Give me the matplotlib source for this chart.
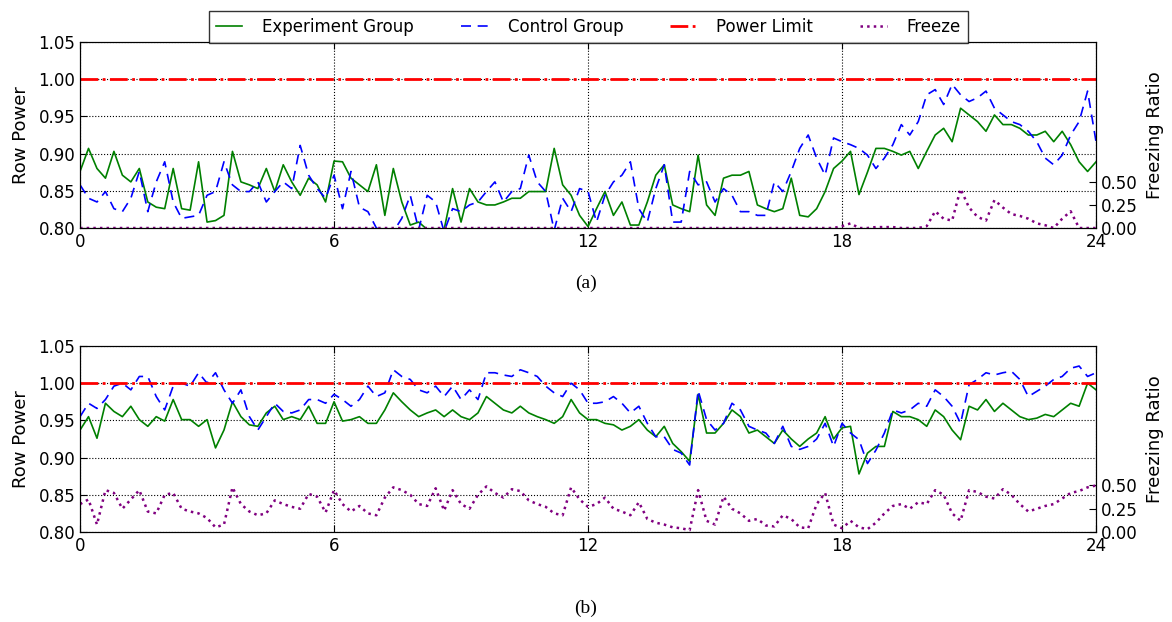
import numpy as np
import matplotlib
matplotlib.use("Agg")
import matplotlib.pyplot as plt

# sample times (hours), one reading every 12 minutes
hours = np.linspace(0, 24, 121)

# (a) row power and freezing ratio
green_a = [0.876, 0.907, 0.880, 0.867, 0.903, 0.871, 0.862, 0.880, 0.835, 0.828, 0.826, 0.880, 0.826, 0.824, 0.889, 0.808,
           0.810, 0.817, 0.903, 0.862, 0.858, 0.853, 0.880, 0.849, 0.885, 0.862, 0.844, 0.867, 0.858, 0.835, 0.890,
           0.889, 0.867, 0.858, 0.849, 0.885, 0.817, 0.880, 0.835, 0.804, 0.808, 0.798, 0.795, 0.798, 0.853, 0.808,
           0.853, 0.835, 0.831, 0.831, 0.835, 0.840, 0.840, 0.849, 0.849, 0.849, 0.907, 0.858, 0.844, 0.817, 0.802,
           0.826, 0.849, 0.817, 0.835, 0.804, 0.804, 0.835, 0.871, 0.885, 0.831, 0.826, 0.822, 0.898, 0.831, 0.817,
           0.867, 0.871, 0.871, 0.876, 0.831, 0.826, 0.822, 0.826, 0.867, 0.817, 0.815, 0.826, 0.849, 0.880, 0.890,
           0.903, 0.845, 0.875, 0.907, 0.907, 0.903, 0.898, 0.903, 0.880, 0.903, 0.925, 0.934, 0.916, 0.961, 0.952,
           0.943, 0.930, 0.952, 0.939, 0.939, 0.934, 0.925, 0.925, 0.930, 0.916, 0.930, 0.912, 0.889, 0.876, 0.889]
blue_a = [0.858, 0.840, 0.835, 0.849, 0.826, 0.822, 0.840, 0.876, 0.822, 0.862, 0.889, 0.835, 0.813, 0.815, 0.817, 0.844,
          0.849, 0.889, 0.858, 0.849, 0.849, 0.862, 0.835, 0.849, 0.862, 0.853, 0.911, 0.871, 0.853, 0.840, 0.871,
          0.826, 0.876, 0.828, 0.822, 0.800, 0.795, 0.795, 0.813, 0.844, 0.798, 0.844, 0.835, 0.795, 0.826, 0.822,
          0.831, 0.835, 0.849, 0.862, 0.835, 0.849, 0.853, 0.898, 0.862, 0.849, 0.797, 0.840, 0.822, 0.853, 0.849,
          0.808, 0.844, 0.862, 0.871, 0.889, 0.826, 0.808, 0.853, 0.885, 0.808, 0.808, 0.876, 0.858, 0.862, 0.835,
          0.853, 0.844, 0.822, 0.822, 0.817, 0.817, 0.862, 0.849, 0.876, 0.907, 0.925, 0.894, 0.871, 0.921, 0.916,
          0.912, 0.907, 0.898, 0.880, 0.894, 0.912, 0.939, 0.925, 0.943, 0.979, 0.986, 0.966, 0.993, 0.979, 0.970,
          0.975, 0.984, 0.961, 0.952, 0.943, 0.939, 0.930, 0.916, 0.894, 0.885, 0.898, 0.925, 0.943, 0.984, 0.916]
freeze_a = [0.0, 0.0, 0.0, 0.0, 0.0, 0.0, 0.0, 0.0, 0.0, 0.0, 0.0, 0.0, 0.0, 0.0, 0.0, 0.0, 0.0, 0.0, 0.0, 0.0,
            0.0, 0.0, 0.0, 0.0, 0.0, 0.0, 0.0, 0.0, 0.0, 0.0, 0.0, 0.0, 0.0, 0.0, 0.0, 0.0, 0.0, 0.0, 0.0, 0.0,
            0.0, 0.0, 0.0, 0.0, 0.0, 0.0, 0.0, 0.0, 0.0, 0.0, 0.0, 0.0, 0.0, 0.0, 0.0, 0.0, 0.0, 0.0, 0.0, 0.0,
            0.0, 0.0, 0.0, 0.0, 0.0, 0.0, 0.0, 0.0, 0.0, 0.0, 0.0, 0.0, 0.0, 0.0, 0.0, 0.0, 0.0, 0.0, 0.0, 0.0,
            0.0, 0.0, 0.0, 0.0, 0.0, 0.0, 0.0, 0.0, 0.0, 0.0,
            0.02, 0.05, 0.0, 0.0, 0.01, 0.01, 0.01, 0.0, 0.0, 0.0, 0.02, 0.18, 0.10, 0.08, 0.42, 0.22, 0.12, 0.08,
            0.30, 0.22, 0.15, 0.13, 0.10, 0.05, 0.03, 0.0, 0.10, 0.18, 0.0, 0.0, 0.0]

# (b) row power and freezing ratio
green_b = [0.937, 0.955, 0.926, 0.973, 0.962, 0.955, 0.969, 0.951, 0.942, 0.955, 0.949, 0.978, 0.951, 0.951, 0.942, 0.951,
           0.913, 0.937, 0.975, 0.955, 0.944, 0.942, 0.960, 0.969, 0.951, 0.955, 0.951, 0.969, 0.946, 0.946, 0.975,
           0.949, 0.951, 0.955, 0.946, 0.946, 0.964, 0.987, 0.975, 0.964, 0.955, 0.960, 0.964, 0.955, 0.964, 0.955,
           0.951, 0.960, 0.982, 0.973, 0.964, 0.960, 0.969, 0.960, 0.955, 0.951, 0.946, 0.955, 0.978, 0.960, 0.951,
           0.951, 0.946, 0.944, 0.937, 0.942, 0.951, 0.937, 0.928, 0.942, 0.919, 0.908, 0.895, 0.985, 0.933, 0.933,
           0.946, 0.964, 0.955, 0.933, 0.937, 0.928, 0.919, 0.937, 0.925, 0.915, 0.925, 0.933, 0.955, 0.925, 0.940,
           0.942, 0.878, 0.906, 0.915, 0.915, 0.962, 0.955, 0.955, 0.951, 0.942, 0.964, 0.955, 0.937, 0.924, 0.969,
           0.964, 0.978, 0.962, 0.973, 0.964, 0.955, 0.951, 0.953, 0.958, 0.955, 0.964, 0.973, 0.969, 1.000, 0.991]
blue_b = [0.955, 0.973, 0.966, 0.978, 0.996, 1.000, 0.991, 1.009, 1.009, 0.982, 0.964, 0.996, 1.000, 0.996, 1.014, 1.000,
          1.014, 0.991, 0.973, 0.991, 0.955, 0.937, 0.955, 0.973, 0.962, 0.960, 0.964, 0.978, 0.978, 0.973, 0.985,
          0.978, 0.969, 0.978, 0.996, 0.982, 0.987, 1.018, 1.009, 1.005, 0.991, 0.987, 0.996, 0.982, 0.996, 0.978,
          0.991, 0.978, 1.014, 1.014, 1.011, 1.009, 1.018, 1.014, 1.009, 0.996, 0.987, 0.982, 1.000, 0.991, 0.973,
          0.973, 0.975, 0.982, 0.973, 0.960, 0.969, 0.946, 0.928, 0.928, 0.911, 0.906, 0.890, 0.990, 0.951, 0.937,
          0.946, 0.973, 0.964, 0.942, 0.937, 0.933, 0.919, 0.942, 0.915, 0.911, 0.915, 0.925, 0.946, 0.915, 0.946,
          0.933, 0.924, 0.892, 0.910, 0.933, 0.964, 0.960, 0.964, 0.973, 0.969, 0.991, 0.982, 0.969, 0.946, 0.998,
          1.005, 1.014, 1.011, 1.014, 1.016, 1.005, 0.982, 0.989, 0.996, 1.005, 1.009, 1.020, 1.023, 1.009, 1.014]
freeze_b = [0.30, 0.35, 0.08, 0.45, 0.42, 0.25, 0.35, 0.45, 0.22, 0.20, 0.40, 0.42, 0.25, 0.22, 0.20, 0.15,
            0.05, 0.08, 0.48, 0.30, 0.22, 0.18, 0.20, 0.34, 0.30, 0.27, 0.25, 0.41, 0.38, 0.21, 0.45,
            0.30, 0.22, 0.28, 0.20, 0.18, 0.37, 0.48, 0.45, 0.40, 0.30, 0.28, 0.47, 0.23, 0.45, 0.30,
            0.25, 0.40, 0.49, 0.42, 0.37, 0.46, 0.44, 0.34, 0.30, 0.27, 0.20, 0.18, 0.48, 0.35, 0.27,
            0.30, 0.37, 0.25, 0.22, 0.18, 0.32, 0.14, 0.10, 0.08, 0.05, 0.04, 0.02, 0.45, 0.12, 0.08,
            0.38, 0.25, 0.20, 0.12, 0.14, 0.07, 0.06, 0.18, 0.14, 0.05, 0.04, 0.30, 0.42, 0.08, 0.04,
            0.12, 0.05, 0.03, 0.10, 0.20, 0.28, 0.30, 0.25, 0.32, 0.30, 0.45, 0.40, 0.20, 0.12, 0.45,
            0.43, 0.38, 0.36, 0.46, 0.40, 0.30, 0.22, 0.25, 0.28, 0.30, 0.36, 0.42, 0.44, 0.48, 0.50]

power_limit = 1.0
x_ticks = [0, 6, 12, 18, 24]
power_ticks = [0.80, 0.85, 0.90, 0.95, 1.00, 1.05]
freeze_ticks = [0.00, 0.25, 0.50]

plt.rcParams['font.family'] = ['DejaVu Sans']
plt.rcParams['xtick.direction'] = 'in'
plt.rcParams['ytick.direction'] = 'in'

fig = plt.figure(figsize=(11.72, 6.22), dpi=100)
ax_a = fig.add_axes([0.0683, 0.6334, 0.8669, 0.2991])
ax_b = fig.add_axes([0.0683, 0.1447, 0.8669, 0.2991])


def draw_panel(ax, green, blue, freeze):
    l1, = ax.plot(hours, green, color='#008000', lw=1.2, label='Experiment Group')
    l2, = ax.plot(hours, blue, color='#0000ff', lw=1.2, ls=(0, (6, 4)), label='Control Group')
    l3 = ax.axhline(power_limit, color='red', lw=2, ls='-.', label='Power Limit')
    ax.set_xlim(0, 24)
    ax.set_ylim(0.80, 1.05)
    ax.set_xticks(x_ticks)
    ax.set_yticks(power_ticks)
    ax.set_yticklabels(['%.2f' % v for v in power_ticks])
    ax.tick_params(labelsize=12, top=True, length=5)
    ax.grid(True, color='black', ls=':', lw=0.8)
    ax.set_ylabel('Row Power', fontsize=13, labelpad=6)
    ax2 = ax.twinx()
    l4, = ax2.plot(hours, freeze, color='purple', lw=1.8, ls=':', label='Freeze')
    ax2.set_ylim(0, 2.0)
    ax2.set_yticks(freeze_ticks)
    ax2.set_yticklabels(['%.2f' % v for v in freeze_ticks])
    ax2.tick_params(labelsize=12, length=5)
    ax2.set_ylabel('Freezing Ratio', fontsize=13, labelpad=6)
    return [l1, l2, l3, l4]


handles = draw_panel(ax_a, green_a, blue_a, freeze_a)
draw_panel(ax_b, green_b, blue_b, freeze_b)

fig.text(0.5, 0.545, '(a)', family='Liberation Serif', fontsize=14, ha='center', va='center')
fig.text(0.5, 0.022, '(b)', family='Liberation Serif', fontsize=14, ha='center', va='center')

leg = fig.legend(handles=handles, loc='upper center', bbox_to_anchor=(0.502, 0.995), ncol=4,
                 fontsize=12, frameon=True, fancybox=False, edgecolor='black',
                 handlelength=1.6, handletextpad=1.2, columnspacing=2.8, borderpad=0.4)
leg.get_frame().set_linewidth(1.0)

fig.savefig('out.png', dpi=100, facecolor='white')
